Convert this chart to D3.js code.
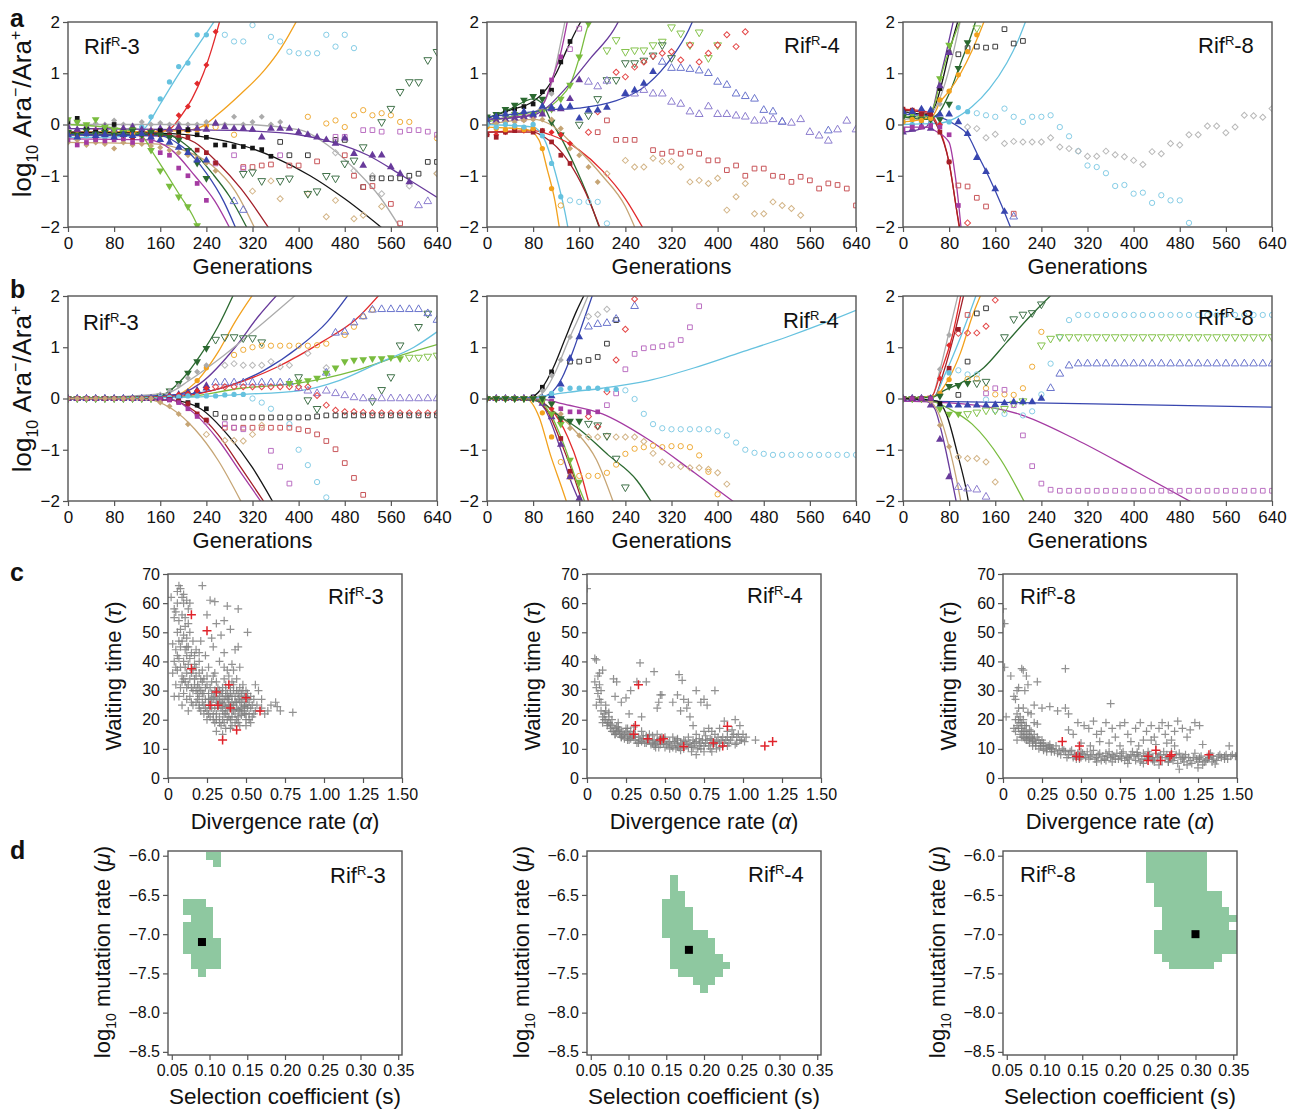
<!DOCTYPE html>
<html>
<head>
<meta charset="utf-8">
<script src="https://cdn.jsdelivr.net/npm/d3@7"></script>
<style>
body { margin: 0; background: #fff; }
svg text { font-family: "Liberation Sans", Arial, Helvetica, sans-serif; fill: #111; }
</style>
</head>
<body>
<svg id="fig" width="1293" height="1111"></svg>
<script>
const _ = null;

// sampling grid (generations), every 16
const gens = [0,16,32,48,64,80,96,112,128,144,160,176,192,208,224,240,256,272,288,304,320,
  336,352,368,384,400,416,432,448,464,480,496,512,528,544,560,576,592,608,624,640];

// ---------- row a : fitted curves [series, [[gen, log ratio]...]] ----------
const aR3Lines = [
  ["sky", [[0,-0.25],[80,-0.24],[120,-0.2],[135,-0.05],[160,0.4],[190,0.95],[220,1.45],[250,1.95],[256,2.05]]],
  ["red", [[0,-0.15],[150,-0.15],[175,-0.1],[195,0.15],[215,0.5],[235,1.0],[250,1.5],[264,2.05]]],
  ["org", [[0,-0.15],[200,-0.12],[230,-0.05],[260,0.2],[300,0.6],[340,1.05],[370,1.5],[398,2.05]]],
  ["gry", [[0,0.0],[300,0.0],[400,-0.1],[450,-0.4],[500,-0.9],[540,-1.4],[578,-2.05]]],
  ["pur", [[0,-0.08],[200,-0.1],[300,-0.12],[400,-0.2],[460,-0.35],[520,-0.6],[580,-1.0],[640,-1.42]]],
  ["blk", [[0,-0.15],[180,-0.18],[240,-0.25],[300,-0.4],[360,-0.65],[420,-1.0],[480,-1.45],[548,-2.05]]],
  ["drd", [[0,-0.2],[180,-0.22],[220,-0.35],[260,-0.75],[300,-1.25],[350,-2.05]]],
  ["tan", [[0,-0.35],[150,-0.38],[200,-0.5],[250,-0.8],[290,-1.3],[325,-2.05]]],
  ["mag", [[0,-0.28],[140,-0.3],[180,-0.5],[220,-1.0],[255,-1.5],[282,-2.05]]],
  ["lgn", [[0,0.0],[100,-0.1],[130,-0.25],[150,-0.6],[170,-0.95],[195,-1.4],[215,-1.75],[228,-2.05]]],
  ["dgn", [[0,-0.18],[170,-0.2],[210,-0.45],[250,-0.95],[280,-1.4],[312,-2.05]]],
  ["blu", [[0,-0.2],[160,-0.22],[200,-0.45],[240,-0.95],[270,-1.5],[292,-2.05]]]
];
// markers: [series, number of filled (fitted) points, values on the gens grid]
const aR3Pts = [
  ["sky",16,[-0.25,-0.28,-0.22,-0.3,-0.25,-0.2,-0.28,-0.22,-0.05,0.15,0.5,0.83,1.13,1.2,1.75,1.75,_,1.75,1.62,1.62,1.94,_,1.71,1.62,1.42,1.39,1.39,1.39,1.75,1.52,1.75,1.49]],
  ["red",17,[-0.15,-0.12,-0.18,-0.1,-0.15,-0.2,-0.12,-0.15,-0.18,-0.2,-0.12,-0.1,0.18,0.35,0.8,1.16,1.81]],
  ["org",16,[-0.15,-0.2,-0.1,-0.18,-0.12,-0.15,-0.1,-0.2,-0.15,-0.12,-0.18,-0.1,-0.15,-0.12,-0.1,-0.02,-0.05,_,-0.2,_,_,_,_,_,_,_,0.15,_,0.02,0.08,-0.05,0.18,0.28,0.18,0.22,0.18,0.05,0.05,_,_,-0.27]],
  ["gry",24,[0.0,0.05,-0.05,0.02,0.0,0.08,0.0,-0.02,0.05,0.0,0.03,0.0,0.02,0.0,0.0,0.05,0.02,0.0,0.15,0.0,0.05,0.15,0.0,0.05,_,_,_,_,_,-0.55,_,-0.9,_,-1.0,-1.35,_,_,-1.2,_,_,-0.95]],
  ["pur",38,[-0.05,-0.1,-0.05,-0.12,-0.05,-0.1,-0.08,-0.05,-0.1,-0.12,-0.08,-0.1,-0.05,-0.1,-0.08,-0.1,0.02,-0.05,-0.08,-0.08,-0.1,-0.25,-0.08,-0.08,-0.08,-0.15,-0.2,-0.25,-0.3,-0.37,-0.27,-0.57,-0.8,-0.6,-0.6,-0.83,-0.96,-1.12,-1.58,-1.5]],
  ["blk",23,[0.05,0.12,-0.1,-0.15,-0.12,0.0,-0.15,-0.1,-0.18,-0.15,-0.12,-0.2,-0.15,-0.1,-0.2,-0.25,-0.4,-0.4,-0.43,-0.43,-0.46,-0.49,-0.62,-0.34,-0.6,_,-0.6,_,_,-0.3,-0.3,_,-1.22,-1.05,-1.05,-1.05,-1.05,-1.0,-0.96,-0.73,-0.73]],
  ["drd",17,[-0.2,-0.22,-0.18,-0.25,-0.2,-0.22,-0.18,-0.25,-0.2,-0.22,-0.2,-0.22,-0.25,-0.25,-0.5,-0.55,-0.75,_,_,-0.83,-0.83,-0.8,-0.78,_,-0.8,-0.8,_,-0.72,_,_,-0.6,-1.0,-1.22,-1.2,_,-1.55,-1.93]],
  ["tan",17,[-0.35,-0.3,-0.4,-0.35,-0.38,-0.47,-0.35,-0.4,-0.38,-0.42,-0.45,-0.5,-0.55,-0.6,-0.65,-0.75,-0.9,_,_,_,-1.3,_,-1.1,-1.45,_,_,-1.35,_,-1.8,-1.48,_,-1.84,-1.77,_,-1.6,_,_,_,_,_,-0.96]],
  ["mag",16,[-0.3,-0.4,-0.35,-0.3,-0.32,-0.3,-0.28,-0.35,-0.3,-0.32,-0.55,-0.6,-0.85,-1.0,-1.15,-1.48,-0.76,_,-0.6,-0.86,_,_,_,-0.6,_,_,_,_,_,-0.24,-0.24,_,-0.11,-0.11,-0.14,_,-0.14,-0.11,-0.11,-0.14,-0.2]],
  ["lgn",15,[0.1,0.05,0.0,0.1,-0.05,-0.1,-0.15,-0.1,-0.2,-0.5,-0.9,-1.2,-1.41,-1.6,-1.97]],
  ["dgn",16,[-0.15,-0.2,-0.12,-0.18,-0.15,-0.2,-0.18,-0.12,-0.2,-0.15,-0.2,-0.25,-0.3,-0.5,-0.75,-1.05,_,_,_,-0.96,-0.93,-1.1,_,-1.1,-1.05,_,-1.35,-1.3,-1.0,-1.05,-0.76,-0.7,-0.44,_,0.05,0.31,0.64,0.83,0.83,1.26,1.42]],
  ["blu",16,[-0.2,-0.25,-0.18,-0.22,-0.2,-0.25,-0.2,-0.22,-0.18,-0.25,-0.3,-0.35,-0.45,-0.55,-0.7,-0.7,_,_,-1.5,-1.67]]
];

const aR4Lines = [
  ["blk", [[0,0.12],[40,0.28],[80,0.45],[100,0.65],[120,1.0],[140,1.5],[160,1.95],[165,2.05]]],
  ["gry", [[0,0.1],[60,0.15],[90,0.3],[112,0.8],[126,1.5],[136,2.05]]],
  ["mag", [[0,0.1],[80,0.2],[100,0.45],[115,0.95],[128,1.4],[140,2.05]]],
  ["lgn", [[0,0.05],[60,0.2],[100,0.3],[125,0.5],[145,0.8],[160,1.3],[176,1.95],[180,2.05]]],
  ["dgn", [[0,0.12],[40,0.3],[80,0.5],[95,0.42],[112,0.05],[128,-0.25],[150,-0.75],[175,-1.4],[196,-2.05]]],
  ["pur", [[0,0.1],[80,0.18],[100,0.3],[140,0.75],[180,1.3],[220,1.85],[230,2.05]]],
  ["blu", [[0,0.15],[60,0.22],[100,0.28],[160,0.32],[220,0.45],[280,0.8],[320,1.3],[350,1.85],[358,2.05]]],
  ["red", [[0,-0.15],[80,-0.12],[110,-0.2],[160,-0.5],[200,-0.9],[240,-1.45],[272,-2.05]]],
  ["drd", [[0,-0.15],[80,-0.15],[100,-0.25],[140,-0.7],[170,-1.3],[197,-2.05]]],
  ["tan", [[0,0.0],[80,0.1],[110,0.0],[150,-0.4],[200,-1.0],[240,-1.6],[258,-2.05]]],
  ["org", [[0,-0.05],[70,-0.1],[90,-0.3],[105,-0.9],[118,-1.5],[126,-2.05]]],
  ["sky", [[0,0.0],[80,-0.05],[100,-0.3],[120,-1.0],[135,-1.7],[141,-2.05]]]
];
const aR4Pts = [
  ["blk",10,[0.1,0.15,0.28,0.3,0.35,0.4,0.64,0.67,1.22,1.62]],
  ["gry",8,[0.1,0.12,0.15,0.1,0.18,0.15,0.2,0.6]],
  ["mag",9,[0.05,0.1,0.08,0.12,0.1,0.15,0.25,0.87,1.32,1.47,1.87]],
  ["lgn",12,[0.05,0.1,0.15,0.2,0.2,0.2,0.25,0.3,0.5,0.77,1.32,1.97,_,1.45,1.65,1.42,1.45,1.45,1.55,1.62,1.9,1.78,1.55,1.8,1.3,1.55]],
  ["dgn",9,[0.15,0.2,0.3,0.38,0.48,0.55,0.5,0.05,-0.2,_,0.0,0.18,0.5,0.87,0.87,1.2,1.2,1.25,1.35,1.55,1.3]],
  ["pur",11,[0.05,0.08,0.1,0.12,0.15,0.18,0.2,0.3,0.3,0.5,0.87,0.83,0.74,0.85,_,0.6,0.6,0.67,0.6,0.6,0.44,0.4,0.25,0.2,0.35,0.2,0.2,0.17,0.15,0.07,0.07,0.1,0.05,0.03,0.1,-0.15,-0.22,-0.32,-0.1,0.07,-0.1]],
  ["blu",19,[0.1,0.15,0.2,0.22,0.25,0.2,0.35,0.33,0.33,0.35,0.12,0.28,0.28,0.33,_,0.6,0.67,0.8,1.03,1.22,1.1,1.1,1.08,1.05,1.0,0.83,0.77,0.6,0.55,0.5,0.28,0.25,0.05,_,_,_,_,-0.12]],
  ["red",10,[-0.2,-0.2,-0.15,-0.1,-0.12,-0.1,-0.12,-0.15,-0.2,-0.37,_,-0.15,0.25,_,1.02,0.93,1.12,1.22,1.33,1.39,1.42,1.26,1.55,1.22,1.39,1.55,1.75,1.52,1.81]],
  ["drd",10,[-0.2,-0.25,-0.15,-0.12,-0.1,-0.15,-0.12,-0.34,-0.6,-0.76,_,_,-0.15,0.08,-0.3,-0.3,-0.3,_,-0.5,-0.57,-0.53,-0.57,-0.53,-0.57,-0.7,-0.7,-0.89,-0.8,-1.0,-0.86,-0.86,-1.0,-1.02,-1.12,-1.02,-1.09,-1.25,-1.15,-1.18,-1.25,-1.58]],
  ["tan",13,[0.0,0.02,0.05,0.05,0.08,0.1,0.1,0.1,-0.08,-0.47,-0.6,-0.83,-1.12,-0.96,_,-0.7,-0.83,-0.83,-0.66,-0.72,-0.72,-0.83,-1.12,-1.09,-1.15,-1.05,-1.67,-1.41,-1.15,-1.74,-1.74,-1.51,-1.58,-1.64,-1.77]],
  ["org",8,[-0.05,-0.08,-0.1,-0.05,-0.1,-0.08,-0.47,-1.25,-1.58]],
  ["sky",9,[0.0,-0.05,0.0,-0.02,-0.05,0.0,-0.22,-0.76,-1.41,-1.48,-1.51,-1.51,-1.51,-1.93]]
];

const aR8Lines = [
  ["blk", [[0,0.25],[40,0.2],[55,0.35],[65,0.7],[80,1.4],[96,2.05]]],
  ["gry", [[0,0.1],[40,0.15],[55,0.3],[70,0.7],[85,1.3],[100,2.05]]],
  ["pur", [[0,-0.15],[40,-0.05],[52,0.3],[62,0.8],[75,1.4],[88,2.05]]],
  ["lgn", [[0,0.15],[40,0.15],[55,0.4],[65,0.9],[85,1.6],[100,2.05]]],
  ["dgn", [[0,0.15],[40,0.1],[60,0.2],[80,0.6],[100,1.2],[120,1.8],[127,2.05]]],
  ["org", [[0,0.05],[50,0.15],[65,0.45],[80,0.65],[100,1.0],[120,1.45],[135,1.85],[142,2.05]]],
  ["sky", [[0,0.0],[60,0.02],[90,0.12],[120,0.35],[150,0.7],[180,1.2],[200,1.65],[214,2.05]]],
  ["red", [[0,0.3],[40,0.25],[60,0.0],[80,-0.75],[92,-1.6],[98,-2.05]]],
  ["drd", [[0,0.28],[40,0.22],[60,-0.05],[80,-0.75],[95,-1.8],[99,-2.05]]],
  ["mag", [[0,-0.05],[40,-0.05],[60,-0.15],[80,-0.35],[90,-0.95],[97,-1.6],[101,-2.05]]],
  ["blu", [[0,0.2],[60,0.15],[90,0.0],[112,-0.2],[130,-0.6],[150,-1.05],[170,-1.55],[188,-2.05]]]
];
const aR8Pts = [
  ["sky",8,[0.05,0.0,0.05,0.02,0.0,0.05,0.33,0.25,0.22,0.18,0.15,0.31,0.15,0.05,0.15,0.15,0.18,-0.05,-0.23,-0.52,-0.8,-0.83,-0.95,-1.2,-1.18,-1.35,-1.33,-1.53,-1.38,-1.48,-1.48,-1.92]],
  ["gry",5,[0.1,0.12,0.15,0.1,0.4,_,_,-0.05,-0.08,-0.26,-0.19,-0.37,-0.33,-0.34,-0.34,-0.34,-0.26,-0.44,-0.47,-0.52,-0.62,-0.62,-0.52,-0.59,-0.63,-0.7,-0.78,-0.53,-0.57,-0.37,-0.4,-0.2,-0.2,-0.03,-0.03,-0.16,-0.05,0.18,0.17,0.14,0.31]],
  ["blk",6,[0.25,0.22,0.2,0.18,0.7,1.4,1.37,1.49,1.52,1.5,1.52,1.86,1.58,1.63]],
  ["pur",6,[-0.15,-0.1,-0.05,-0.08,0.75,1.4]],
  ["lgn",6,[0.15,0.2,0.15,0.12,0.9,1.55,_,_,1.88]],
  ["dgn",8,[0.15,0.12,0.1,0.1,0.1,0.4,1.1,1.6]],
  ["org",9,[0.05,0.1,0.08,0.12,0.48,0.65,0.97,1.42,1.75]],
  ["red",6,[0.3,0.28,0.25,0.2,0.0,-0.73,_,-1.92]],
  ["drd",6,[0.3,0.28,0.2,0.2,-0.15,-0.73,-1.19,-1.21,-1.43,-1.6,_,_,-1.74]],
  ["mag",7,[-0.1,-0.05,-0.05,-0.02,-0.05,-0.2,-1.58]],
  ["blu",12,[0.25,0.25,0.3,0.28,0.2,0.2,0.05,-0.18,-0.65,-0.92,-1.26,-1.7,-1.8]]
];

// ---------- row b ----------
const bR3Lines = [
  ["dgn", [[0,0],[140,0],[170,0.1],[200,0.4],[230,0.85],[260,1.4],[288,2.05]]],
  ["org", [[0,0],[180,0.05],[220,0.3],[260,0.9],[290,1.5],[322,2.05]]],
  ["pur", [[0,0],[180,0.05],[230,0.3],[290,1.0],[330,1.6],[365,2.05]]],
  ["gry", [[0,0],[170,0.1],[210,0.35],[260,0.75],[320,1.3],[398,2.05]]],
  ["blu", [[0,0],[220,0.1],[280,0.25],[340,0.55],[400,1.0],[450,1.5],[488,2.05]]],
  ["red", [[0,0],[200,0.05],[280,0.25],[360,0.6],[440,1.1],[500,1.55],[542,2.05]]],
  ["lgn", [[0,0],[200,0.03],[300,0.2],[400,0.3],[500,0.55],[580,0.85],[640,1.05]]],
  ["sky", [[0,0],[200,0.02],[300,0.08],[400,0.15],[470,0.35],[540,0.7],[600,1.0],[640,1.3]]],
  ["blk", [[0,0],[180,-0.03],[230,-0.2],[280,-0.75],[320,-1.35],[357,-2.05]]],
  ["drd", [[0,0],[180,-0.03],[220,-0.25],[260,-0.7],[300,-1.35],[342,-2.05]]],
  ["mag", [[0,0],[180,-0.03],[220,-0.3],[260,-0.8],[300,-1.45],[337,-2.05]]],
  ["tan", [[0,0],[140,-0.02],[180,-0.2],[220,-0.6],[260,-1.2],[302,-2.05]]]
];
const bR3Pts = [
  ["dgn",16,[0,0,0,0,0,0,0,0,0,0,0.05,0.15,0.3,0.5,0.72,0.98,1.15,1.2,1.2,1.18,1.18,1.1,_,_,_,0.42,-0.03,-0.2,_,_,_,_,_,-0.05,0.17,0.42,1.04,_,1.4,1.66]],
  ["org",16,[0,0,0,0,0,0,0,0,0,0,0,0.02,0.05,0.12,0.35,0.6,_,_,0.85,0.95,1.0,1.03,1.03,1.03,1.03,1.03,1.03,1.04,1.07,_,1.24,1.4,1.6,1.73]],
  ["pur",16,[0,0,0,0,0,0,0,0,0,0,0,0.02,0.05,0.1,0.15,0.25,_,_,_,_,_,_,_,_,_,0.2,0.15,0.1,0.15,0.1,0.06,0.02,0,0,0,0,0,0,0,0,0]],
  ["gry",16,[0,0,0,0,0,0,0,0,0,0,0.08,0.15,0.25,0.4,0.52,0.65,_,0.65,0.68,0.65,0.65,0.65,0.72,0.62,0.65,_,0.88,_,0.6]],
  ["blu",16,[0,0,0,0,0,0,0,0,0,0,0.02,0.05,0.08,0.12,0.15,0.2,0.31,0.31,0.31,0.31,0.31,0.31,0.31,0.31,0.31,_,_,_,0.5,1.28,1.3,1.48,1.6,1.73,1.74,1.74,1.74,1.74,1.74,1.66,1.53]],
  ["red",16,[0,0,0,0,0,0,0,0,0,0,0.02,0.05,0.08,0.1,0.15,0.2,0.23,0.23,0.23,0.23,0.23,0.23,0.23,0.23,0.23,0.23,0.23,0.06,-0.13,-0.23,-0.26,-0.26,-0.27,-0.28,-0.28,-0.28,-0.28,-0.28,-0.28,-0.28,-0.28]],
  ["lgn",37,[0,0,0,0,0,0,0,0,0,0,_,_,_,_,_,_,_,_,_,_,_,_,_,_,0.3,0.32,0.35,0.4,0.5,0.6,0.72,0.75,0.76,0.78,0.78,0.8,0.78,0.8,0.8,0.82,0.84]],
  ["sky",20,[0,0,0,0,0,0,0,0,0,0,0.02,0.02,0.03,0.05,0.05,0.05,0.05,0.07,0.08,0.08,0.0,-0.08,-0.2,_,-0.5,-1.0,-1.3,-1.63,-1.93]],
  ["blk",16,[0,0,0,0,0,0,0,0,0,0,-0.01,-0.02,-0.05,-0.08,-0.13,-0.2,-0.3,-0.37,-0.37,-0.37,-0.37,-0.37,-0.37,-0.37,-0.37,-0.37,-0.37,-0.35,-0.33,-0.33,-0.33,-0.33,-0.33,-0.33,-0.33,-0.33,-0.33,-0.33,-0.33,-0.33,-0.33]],
  ["drd",16,[0,0,0,0,0,0,0,0,0,0,-0.01,-0.02,-0.05,-0.1,-0.3,-0.42,_,-0.57,-0.57,-0.57,-0.57,-0.57,-0.57,-0.57,-0.57,-0.6,-0.63,-0.7,-0.83,-0.99,-1.26,-1.55,-1.88]],
  ["mag",15,[0,0,0,0,0,0,0,0,0,0,-0.01,-0.03,-0.08,-0.2,-0.35,-0.45,_,-0.5,-0.57,-0.6,_,_,-1.02,-1.33,-1.66]],
  ["tan",14,[0,0,0,0,0,0,0,0,0,0,-0.08,-0.15,-0.3,-0.5,_,-0.7,_,-0.82,-0.82,-0.83,-0.7,-0.52]]
];

const bR4Lines = [
  ["blk", [[0,0],[75,0.02],[95,0.2],[115,0.6],[135,1.15],[155,1.7],[170,2.05]]],
  ["gry", [[0,0],[80,0.02],[100,0.15],[120,0.55],[140,1.1],[160,1.6],[177,2.05]]],
  ["blu", [[0,0],[90,0.02],[110,0.1],[130,0.4],[150,0.95],[170,1.6],[184,2.05]]],
  ["sky", [[0,0],[80,0.0],[100,0.05],[140,0.12],[200,0.2],[280,0.35],[360,0.6],[440,0.9],[520,1.2],[580,1.45],[640,1.72]]],
  ["mag", [[0,0],[100,-0.02],[130,-0.1],[200,-0.3],[280,-0.8],[360,-1.45],[432,-2.05]]],
  ["red", [[0,0],[80,-0.02],[110,-0.2],[140,-0.75],[160,-1.35],[177,-2.05]]],
  ["pur", [[0,0],[80,-0.02],[100,-0.2],[125,-0.9],[145,-1.6],[162,-2.05]]],
  ["drd", [[0,0],[80,-0.02],[105,-0.25],[130,-0.9],[150,-1.5],[166,-2.05]]],
  ["lgn", [[0,0],[85,-0.02],[110,-0.3],[135,-0.95],[155,-1.6],[171,-2.05]]],
  ["org", [[0,0],[70,-0.02],[90,-0.35],[110,-1.1],[130,-1.75],[139,-2.05]]],
  ["tan", [[0,0],[80,-0.02],[110,-0.2],[150,-0.6],[190,-1.2],[220,-2.05]]],
  ["dgn", [[0,0],[90,-0.05],[120,-0.3],[160,-0.6],[210,-1.1],[260,-1.6],[287,-2.05]]]
];
const bR4Pts = [
  ["blk",8,[0,0,0,0,0,0.03,0.22,0.52,_,0.72,0.72,0.75,0.81,1.07,1.53]],
  ["gry",10,[0,0,0,0,0,0,0.15,0.45,0.75,1.2,_,1.6,1.64,1.74]],
  ["blu",11,[0,0,0,0,0,0,0.01,0.05,0.28,0.78,1.2,1.4,1.45,1.47,1.55,_,1.8]],
  ["sky",15,[0,0,0,0,0,0,0.02,0.1,0.18,0.2,0.2,0.2,0.2,0.18,0.18,0.16,-0.01,-0.3,-0.5,-0.58,-0.6,-0.6,-0.6,-0.6,-0.6,-0.64,-0.72,-0.86,-1.0,-1.06,-1.08,-1.1,-1.1,-1.1,-1.1,-1.1,-1.1,-1.1,-1.1,-1.1,-1.1]],
  ["mag",13,[0,0,0,0,0,0,0,-0.05,-0.2,-0.26,-0.26,-0.27,-0.26,-0.13,0.1,0.57,0.87,0.98,1.0,1.02,1.05,1.14,1.39,1.8]],
  ["red",9,[0,0,0,0,0,0,0,-0.2,-0.45,_,_,-0.35,-0.55,0.13,0.75,1.35,1.94]],
  ["pur",11,[0,0,0,0,0,0,-0.1,-0.36,-0.9,-1.53,-1.95]],
  ["drd",10,[0,0,0,0,0,0,-0.05,-0.3,-0.78,-1.42]],
  ["lgn",11,[0,0,0,0,0,0,-0.05,-0.3,-0.5,-1.2,-1.63]],
  ["org",8,[0,0,0,0,0,0,-0.28,-0.75,-1.24,-1.53,-1.51,-1.51,-1.51,-1.45,-1.29,-1.08,-0.98,-0.95,-0.92,-0.95,-0.93,-0.93,-0.95,-1.11,-1.43,-1.87]],
  ["tan",11,[0,0,0,0,0,0,0,-0.1,-0.3,-0.58,-0.72,-0.75,-0.75,-0.73,-0.75,-0.75,-0.75,-0.84,-1.07,-1.24,-1.3,-1.33,-1.35,-1.35,-1.38,-1.45,-1.67]],
  ["dgn",11,[0,0,0,0,0,0,0,-0.1,-0.39,-0.44,-0.44,-0.49,-0.52,-0.73,-1.17,-1.73]]
];

const bR8Lines = [
  ["gry", [[0,0],[50,0.05],[65,0.6],[80,1.3],[96,2.05]]],
  ["red", [[0,0],[50,0.05],[65,0.5],[85,1.2],[101,2.05]]],
  ["drd", [[0,0],[55,0.05],[70,0.5],[90,1.3],[106,2.05]]],
  ["sky", [[0,0],[55,0.05],[70,0.4],[100,1.2],[128,2.05]]],
  ["org", [[0,0],[55,0.05],[80,0.4],[100,0.9],[120,1.6],[136,2.05]]],
  ["dgn", [[0,0],[50,0.02],[70,0.15],[100,0.3],[140,0.6],[180,1.1],[220,1.6],[260,2.05]]],
  ["blu", [[0,-0.05],[200,-0.08],[400,-0.12],[640,-0.17]]],
  ["mag", [[0,-0.05],[100,-0.1],[200,-0.3],[300,-0.8],[400,-1.4],[505,-2.05]]],
  ["lgn", [[0,0],[50,-0.05],[80,-0.2],[120,-0.5],[170,-1.2],[212,-2.05]]],
  ["pur", [[0,0],[40,-0.05],[55,-0.2],[70,-0.8],[85,-1.6],[93,-2.05]]],
  ["tan", [[0,0],[45,-0.05],[60,-0.25],[80,-0.95],[95,-1.7],[101,-2.05]]],
  ["blk", [[0,0],[60,-0.05],[75,-0.3],[95,-1.1],[110,-1.8],[114,-2.05]]]
];
const bR8Pts = [
  ["gry",6,[0,0,0,0,0.57,1.24]],
  ["red",6,[0,0,0,0,0.39,1.04,1.27,1.28,1.28,1.41,1.92]],
  ["drd",7,[0,0,0,0,0.1,0.59,1.35,1.63]],
  ["sky",6,[0,0,0,0,0.1,0.5,0.55,0.47,0.47,-0.02,-0.23,-0.3,_,-0.33,-0.25,0.08,0.68,1.2,1.53,
    1.63,1.63,1.63,1.63,1.63,1.63,1.63,1.63,1.63,1.63,1.63,1.63,1.63,1.63,1.63,1.63,1.63,1.63,1.63,1.63,1.63,1.63]],
  ["org",6,[0,0,0,0,0.1,0.37,_,0.38,0.39,0.2,0.08,0.08,0.07,0.2,0.62,1.3]],
  ["dgn",8,[0,0,0,0,0.05,0.24,0.26,0.3,0.3,0.33,_,1.2,1.55,1.64,1.67,1.84]],
  ["blu",16,[0,0,0,0,-0.13,-0.13,-0.13,-0.13,-0.13,-0.13,-0.12,-0.09,-0.07,-0.07,-0.07,0.0,0.2,0.48,0.64,
    0.68,0.68,0.68,0.68,0.68,0.68,0.68,0.68,0.68,0.68,0.68,0.68,0.68,0.68,0.68,0.68,0.68,0.68,0.68,0.68,0.68,0.68]],
  ["lgn",7,[0,0,0,0,-0.2,-0.3,-0.3,-0.3,-0.27,-0.23,-0.23,-0.2,-0.1,-0.05,_,1.04,1.17,
    1.2,1.2,1.2,1.2,1.2,1.2,1.2,1.2,1.2,1.2,1.2,1.2,1.2,1.2,1.2,1.2,1.2,1.2,1.2,1.2,1.2,1.2,1.2,1.2]],
  ["pur",6,[0,0,0,-0.13,-0.8,-1.53,-1.73,-1.76,-1.78,-1.92]],
  ["tan",6,[0,0,0,-0.05,-0.52,-0.94,-1.14,-1.17,-1.17,-1.24,-1.63]],
  ["blk",5,[0,0,0,0,-0.1,_,0.07,0.72,1.66,1.76]],
  ["mag",4,[0,0,0,0,_,_,_,_,_,0.1,0.2,0.17,-0.13,-0.72,-1.32,-1.66,-1.78,
    -1.8,-1.8,-1.8,-1.8,-1.8,-1.8,-1.8,-1.8,-1.8,-1.8,-1.8,-1.8,-1.8,-1.8,-1.8,-1.8,-1.8,-1.8,-1.8,-1.8,-1.8,-1.8,-1.8,-1.8]]
];

// ---------- row c : [divergence rate alpha, waiting time tau] ----------
const cR3Gray = [
  [0.02,62],[0.04,58],[0.05,57],[0.06,64],[0.07,66],[0.08,65],[0.09,62],[0.1,60],[0.12,61],[0.14,60],[0.04,55],[0.07,54],[0.09,56],[0.11,55],[0.13,53],
  [0.06,50],[0.08,51],[0.1,49],[0.12,48],[0.14,50],[0.16,47],[0.03,46],[0.05,44],[0.08,45],[0.11,44],[0.13,45],[0.15,43],[0.18,44],[0.04,40],[0.07,41],
  [0.1,40],[0.12,42],[0.14,41],[0.17,39],[0.2,40],[0.03,36],[0.06,37],[0.09,35],[0.12,36],[0.15,36],[0.18,35],[0.21,34],[0.05,32],[0.08,31],[0.11,33],
  [0.13,32],[0.16,30],[0.04,28],[0.07,28],[0.1,29],[0.12,27],[0.15,26],[0.09,25],[0.13,23],
  [0.22,66],[0.27,61],[0.3,60.5],[0.38,59],[0.45,58],[0.25,56],[0.31,53],[0.36,54],[0.4,51],[0.34,49],[0.28,48],[0.51,50],[0.21,47],[0.29,45],[0.43,44],
  [0.36,43],[0.24,42],[0.33,40],[0.41,39],[0.26,38],[0.38,37],[0.46,38],[0.3,36],[0.22,37],[0.2,43],[0.45,45],
  [0.18,30],[0.2,28],[0.22,26],[0.2,24],[0.23,22],[0.25,20],[0.24,31],[0.26,29],[0.27,27],[0.28,24],[0.29,22],[0.3,19],[0.31,33],[0.32,31],[0.33,28],
  [0.34,26],[0.35,23],[0.33,21],[0.34,18],[0.36,34],[0.37,30],[0.38,27],[0.39,25],[0.37,22],[0.4,20],[0.41,33],[0.42,30],[0.43,28],[0.44,26],[0.42,23],
  [0.45,21],[0.46,31],[0.47,29],[0.48,27],[0.47,24],[0.49,22],[0.5,20],[0.51,29],[0.52,26],[0.53,24],[0.52,22],[0.54,21],[0.56,23],[0.21,30],[0.26,25],
  [0.31,26],[0.36,27],[0.41,26],[0.46,26],[0.5,25],[0.3,30],[0.35,31],[0.4,29],[0.45,29],[0.24,27],[0.28,33],[0.32,24],[0.38,20],[0.43,19],[0.27,21],
  [0.22,33],[0.19,32],[0.17,34],[0.39,35],[0.44,34],[0.48,32],[0.55,27],[0.29,35],[0.25,35],[0.36,38],[0.4,17],[0.46,18],[0.31,16],[0.35,15],[0.37,17],
  [0.5,18],[0.53,19],[0.2,25],[0.23,29],[0.42,37],[0.29,27.5],[0.33,25.5],[0.37,24.5],[0.41,23.5],[0.45,23.5],[0.49,24.5],[0.39,28],[0.35,29],[0.47,21.5],
  [0.19,27],[0.21,23],[0.23,25],[0.25,23],[0.26,27],[0.27,31],[0.28,26],[0.29,20],[0.3,24],[0.3,28],[0.31,22],[0.32,27],[0.33,30],[0.34,24],[0.34,29],
  [0.35,20],[0.35,26],[0.36,22],[0.36,25],[0.37,28],[0.37,32],[0.38,23],[0.38,29],[0.39,21],[0.39,27],[0.4,25],[0.4,31],[0.41,21],[0.41,28],[0.42,25],
  [0.42,32],[0.43,22],[0.43,26],[0.44,24],[0.44,30],[0.45,27],[0.45,19],[0.46,23],[0.46,28],[0.47,26],[0.48,23],[0.48,30],[0.49,25],[0.49,28],[0.5,22],
  [0.5,30],[0.51,24],[0.51,27],[0.52,20],[0.53,28],[0.54,25],[0.55,22],[0.24,24],[0.26,22],[0.28,29],[0.31,20],[0.33,19],[0.36,19],[0.41,18],[0.44,20],
  [0.06,42],[0.08,38],[0.1,34],[0.11,38],[0.12,31],[0.13,39],[0.14,34],[0.15,31],[0.16,37],[0.17,32],[0.18,38],[0.19,29],[0.09,47],[0.11,52],[0.07,47],
  [0.05,38],[0.09,33],[0.14,28],[0.16,25],[0.18,26],[0.2,31],[0.22,29],[0.13,58],[0.06,60],[0.1,63],[0.12,45],[0.17,42],[0.2,36],[0.23,34],[0.25,32],
  [0.57,25],[0.6,24],[0.62,22],[0.64,23],[0.66,25],[0.69,26],[0.7,24.5],[0.72,23],[0.8,22.5],[0.58,30],[0.6,27],[0.56,32]
];
const cR3Red = [[0.15,56],[0.25,50.5],[0.15,37.5],[0.39,32],[0.31,29.5],[0.27,25],[0.32,25],[0.4,24],[0.5,27.5],[0.59,23],[0.44,16.5],[0.35,13]];

const cR4Gray = [
  [0.0,65],[0.05,41],[0.06,40.5],[0.05,33],[0.06,31],[0.07,35],[0.08,36],[0.06,25],[0.08,27],[0.07,29],[0.09,30],[0.1,37],[0.09,23],[0.1,21],[0.11,22],
  [0.12,20],[0.1,19],[0.13,18],[0.14,19],[0.15,17],[0.16,18],[0.17,16],[0.18,17],[0.19,15.5],[0.2,16],[0.21,15],[0.22,16],[0.23,14.5],[0.24,15],[0.26,14],
  [0.27,15],[0.28,13.5],[0.3,14],[0.31,13],[0.33,14],[0.35,12.5],[0.36,13.5],[0.38,12],[0.4,13],[0.42,12],[0.43,11],[0.45,12.5],[0.47,11.5],[0.49,12],
  [0.5,10.5],[0.52,12],[0.54,11],[0.56,12.5],[0.58,11],[0.6,12],[0.62,10],[0.64,11.5],[0.66,12],[0.68,10.5],[0.7,12.5],[0.72,11],[0.74,13],[0.75,9],
  [0.76,12],[0.78,11],[0.8,13],[0.82,12],[0.84,14],[0.85,10.5],[0.86,13],[0.88,12],[0.9,14],[0.92,13],[0.94,15],[0.96,14],[0.98,13],[1.0,15],[1.02,14],
  [0.7,8],[0.8,9],[0.6,9.5],
  [0.12,23],[0.14,21],[0.16,20],[0.2,19],[0.25,17],[0.3,17.5],[0.35,16],[0.4,15],[0.45,15],[0.55,14],[0.65,14],[0.7,15],[0.75,16],[0.78,17],[0.8,16],
  [0.85,17],[0.88,19.5],[0.95,20],[0.98,18],[1.08,13],[0.72,13.5],[0.62,13],[0.5,14],[0.42,14.5],[0.58,13.5],[0.9,11],[0.96,12],[0.67,9],[0.73,10],
  [0.83,10],[0.53,10],[0.47,13.5],[0.38,14.5],[0.28,16],[0.18,15],[0.22,14],[0.26,13],[0.33,12],[0.44,10.5],[0.57,10],[0.79,13.5],[0.93,16.5],
  [0.11,20],[0.13,19],[0.15,18.5],[0.16,16],[0.18,15],[0.19,17.5],[0.21,16.5],[0.22,14],[0.24,13.5],[0.25,15.5],[0.27,13],[0.29,14.5],[0.31,15],[0.32,12],
  [0.34,13],[0.36,14.5],[0.37,12],[0.39,13.5],[0.41,11.5],[0.43,13],[0.44,12],[0.46,10.5],[0.48,12.5],[0.51,11.5],[0.53,12.5],[0.55,10.5],[0.57,12],
  [0.59,10.5],[0.61,11.5],[0.63,12.5],[0.65,10.5],[0.67,11],[0.69,12],[0.71,10],[0.73,12],[0.75,11],[0.77,13],[0.79,10],[0.81,11.5],[0.83,12.5],[0.85,12],
  [0.87,14],[0.89,13],[0.91,12],[0.93,14],[0.95,11.5],[0.97,15],[0.99,13],[1.01,12.5],[0.14,22.5],[0.12,25],[0.08,32],[0.09,26],[0.76,14.5],[0.82,15],
  [0.9,16],[0.68,13],[0.58,13],[0.48,14],[0.26,17],[0.2,17.5],
  [0.18,28],[0.17,34],[0.19,33],[0.22,26],[0.25,27.5],[0.28,30],[0.32,33],[0.34,39.5],[0.38,33],[0.43,36.5],[0.46,26],[0.47,28.5],[0.48,28.5],[0.58,28.5],
  [0.59,35.5],[0.61,33.5],[0.62,27],[0.65,26],[0.66,21],[0.64,24],[0.7,30],[0.73,26],[0.75,27],[0.77,25],[0.82,30],[0.6,23],[0.55,26],[0.45,24],[0.27,22],
  [0.35,21],[0.68,18]
];
const cR4Red = [[0.33,32],[0.31,18],[0.3,15],[0.39,13.5],[0.47,13],[0.49,13.5],[0.62,10.8],[0.81,12],[0.87,11],[0.9,17.8],[1.14,11],[1.19,12.5]];

const cR8Gray = [
  [0.0,58],[0.01,53],[0.01,38],[0.02,21],[0.05,35],[0.07,28],[0.08,27],[0.09,30],[0.1,31],[0.12,37.5],[0.13,37],[0.14,30],[0.15,35],[0.16,32],[0.22,33],
  [0.4,37.5],[0.2,25],[0.25,24],[0.3,24.5],[0.35,23],[0.4,24],[0.42,22],[0.69,25.5],
  [0.08,16],[0.09,18],[0.1,20],[0.11,21],[0.12,19],[0.13,20],[0.1,24],[0.12,17],[0.14,16],[0.15,18],[0.16,15],[0.17,14],[0.18,16],[0.2,13],[0.22,14],
  [0.24,12],[0.25,13],[0.27,11],[0.3,11.5],[0.32,10],[0.34,11],[0.36,9.5],[0.38,10],[0.4,9],[0.09,13],[0.11,15],[0.13,14],[0.15,13],[0.17,12],[0.19,11],
  [0.21,12],[0.23,10],[0.26,9.5],[0.28,10],[0.31,9],[0.18,22],[0.2,19],[0.22,18.5],[0.16,22.5],[0.13,24],[0.12,16],[0.14,13.5],[0.19,13.5],[0.24,11],
  [0.42,8],[0.45,7],[0.48,8.5],[0.5,7],[0.52,8],[0.55,6.5],[0.57,8],[0.6,7],[0.62,8.5],[0.65,6.5],[0.67,7.5],[0.7,8],[0.72,6.5],[0.75,7.5],[0.77,9],
  [0.8,7],[0.82,8],[0.85,6],[0.87,7.5],[0.9,8.5],[0.92,6.5],[0.95,7],[0.97,5.5],[1.0,7.5],[1.02,6],[1.05,8],[1.07,6.5],[1.1,7],[1.12,5],[1.15,6.5],
  [1.17,8],[1.2,6],[1.22,7],[1.25,5.5],[1.27,7.5],[1.3,6],[1.32,7],[1.35,6.5],[1.38,7.5],[1.4,7],[1.43,8],[1.46,7.5],[1.49,7.5],[0.44,9.5],[0.5,9],
  [0.58,9.5],[0.63,6],[0.68,9],[0.73,8.5],[0.78,6],[0.83,9],[0.88,5.5],[0.93,9],[0.98,8.5],[1.03,9],[1.08,9],[1.13,8.5],[1.18,4.5],[1.23,8.5],[1.28,4.5],
  [1.33,8.5],[1.36,4.8],[1.13,3],[1.25,3.5],[0.6,5.5],[0.7,5.5],[0.8,5],[0.9,5],[1.0,4.5],[0.47,6.5],[0.54,9],[0.66,8.5],[0.76,6.8],[0.86,8.8],[0.96,6],
  [1.06,5.5],[1.16,7.2],[1.26,6.5],[1.34,5.5],[1.42,6.5],
  [0.3,10.5],[0.33,9],[0.35,8.5],[0.37,8],[0.39,9.5],[0.41,7],[0.43,9],[0.46,8],[0.49,6.5],[0.51,8.5],[0.53,7],[0.56,7.5],[0.59,6.5],[0.61,8],[0.64,7.5],
  [0.66,6],[0.69,7],[0.71,7.5],[0.74,6.5],[0.76,8.5],[0.79,7.5],[0.81,6.5],[0.84,7.5],[0.86,8],[0.89,6.5],[0.91,7.5],[0.94,8],[0.96,6.5],[0.99,7],[1.01,8],
  [1.04,7],[1.06,5.5],[1.09,6],[1.11,8],[1.14,7],[1.16,5.5],[1.19,7],[1.21,5],[1.24,6.5],[1.26,7],[1.29,5.5],[1.31,6.5],[1.34,7.5],[1.37,6],[1.39,8],
  [1.42,7.5],[1.44,6.5],[1.47,8],[1.5,7.5],[0.1,17],[0.11,19],[0.12,14],[0.13,16],[0.14,18],[0.15,15],[0.16,13],[0.17,16.5],[0.18,14],[0.19,12.5],[0.2,15],
  [0.21,11],[0.23,13],[0.25,11],[0.26,12],[0.28,9],[0.29,11],[0.31,10],[0.07,17],[0.08,20],[0.09,22],
  [0.45,15],[0.48,19],[0.52,18],[0.55,17],[0.58,19.5],[0.6,15],[0.63,16],[0.66,19],[0.68,12],[0.7,17],[0.72,14],[0.75,18],[0.78,19],[0.8,15],[0.82,12.5],
  [0.85,17],[0.88,19],[0.9,13],[0.92,16],[0.95,18],[0.97,14],[1.0,17],[1.02,19],[1.04,15],[1.06,18],[1.08,13],[1.1,16],[1.12,19.5],[1.15,17],[1.18,14],
  [1.2,16.5],[1.23,19],[1.26,18],[1.28,11.5],[0.5,12],[0.62,12.5],[0.75,11],[0.87,11],[0.98,11.5],[1.1,11],[1.45,11],[0.56,11],[0.42,16.5],[0.95,13],[1.05,12]
];
const cR8Red = [[0.38,12.5],[0.47,7.5],[0.49,7.3],[0.49,11],[0.93,6],[0.93,7.5],[0.98,9.5],[1.01,6],[1.07,7.5],[1.08,8],[1.32,8]];

// ---------- row d : credible region rows [log10 mu, s from, s to] and best fit ----------
const dR3Runs = [[-6.0,0.10,0.11],[-6.1,0.11,0.11],[-6.6,0.07,0.09],[-6.7,0.07,0.10],[-6.8,0.08,0.10],[-6.9,0.07,0.10],
  [-7.0,0.07,0.10],[-7.1,0.07,0.11],[-7.2,0.07,0.11],[-7.3,0.08,0.11],[-7.4,0.08,0.11],[-7.5,0.09,0.09]];
const dR3Best = [0.09,-7.1];
const dR4Runs = [[-6.3,0.16,0.16],[-6.4,0.16,0.16],[-6.5,0.16,0.17],[-6.6,0.15,0.17],[-6.7,0.15,0.18],[-6.8,0.15,0.18],
  [-6.9,0.15,0.18],[-7.0,0.15,0.20],[-7.1,0.16,0.21],[-7.2,0.16,0.21],[-7.3,0.16,0.22],[-7.4,0.16,0.23],[-7.5,0.17,0.22],
  [-7.6,0.19,0.21],[-7.7,0.20,0.20]];
const dR4Best = [0.18,-7.2];
const dR8Runs = [[-6.0,0.24,0.31],[-6.1,0.24,0.31],[-6.2,0.24,0.31],[-6.3,0.24,0.31],[-6.4,0.25,0.31],[-6.5,0.25,0.33],
  [-6.6,0.25,0.33],[-6.7,0.26,0.34],[-6.8,0.26,0.35],[-6.9,0.26,0.34],[-7.0,0.25,0.35],[-7.1,0.25,0.35],[-7.2,0.25,0.35],
  [-7.3,0.26,0.33],[-7.4,0.27,0.32]];
const dR8Best = [0.30,-7.0];

// ---------- styles ----------
const colFill = {blk:"#151515",gry:"#ababab",red:"#e22a2c",drd:"#a21f28",sky:"#66c2df",org:"#f2a11d",lgn:"#79bc3e",
  dgn:"#2b6930",pur:"#683a9b",blu:"#3846af",mag:"#a43aa2",tan:"#c6a575"};
const colHollow = {blk:"#3a3a3a",gry:"#b9b9b9",red:"#e44848",drd:"#c85559",sky:"#86cde6",org:"#efac3a",lgn:"#85c34d",
  dgn:"#41724a",pur:"#8d7ecf",blu:"#6b75cd",mag:"#bb70c2",tan:"#d3b588"};
const shapeOf = {blk:"sq",gry:"di",red:"di",drd:"sq",sky:"ci",org:"ci",lgn:"td",dgn:"td",pur:"tu",blu:"tu",mag:"sq",tan:"di"};
const symPath = {
  sq: d3.symbol(d3.symbolSquare, 22)(),
  di: d3.symbol(d3.symbolSquare, 18)(),
  ci: d3.symbol(d3.symbolCircle, 22)(),
  tu: d3.symbol(d3.symbolTriangle, 26)(),
  td: d3.symbol(d3.symbolTriangle, 26)()
};
const symRot = {sq:0, di:45, ci:0, tu:0, td:180};
const FRAME = "#555";
const GREEN = "#8ec8a0";

const svg = d3.select("#fig");
let clipCount = 0;

function clipGroup(x0, y0, w, h) {
  const id = "clip" + (clipCount++);
  svg.append("clipPath").attr("id", id).append("rect")
    .attr("x", x0).attr("y", y0).attr("width", w).attr("height", h);
  return svg.append("g").attr("clip-path", `url(#${id})`);
}

function axes(x, y, xt, yt, xfmt, yfmt, fs, xpad) {
  const gx = svg.append("g").attr("transform", `translate(0,${y.range()[0]})`)
    .call(d3.axisBottom(x).tickValues(xt).tickFormat(xfmt).tickSize(5).tickPadding(xpad));
  const gy = svg.append("g").attr("transform", `translate(${x.range()[0]},0)`)
    .call(d3.axisLeft(y).tickValues(yt).tickFormat(yfmt).tickSize(5).tickPadding(3));
  [gx, gy].forEach(g => {
    g.select(".domain").remove();
    g.selectAll("line").attr("stroke", FRAME).attr("stroke-width", 1.2);
    g.selectAll("text").attr("font-size", fs);
  });
  const [xa, xb] = x.range(), [ya, yb] = y.range();
  svg.append("rect").attr("x", xa).attr("y", yb).attr("width", xb - xa).attr("height", ya - yb)
    .attr("fill", "none").attr("stroke", FRAME).attr("stroke-width", 1.4);
}

function rifLabel(x, y, n) {
  const t = svg.append("text").attr("x", x).attr("y", y).attr("font-size", 22);
  t.append("tspan").text("Rif");
  t.append("tspan").attr("dy", -8).attr("font-size", 13).text("R");
  t.append("tspan").attr("dy", 8).text("-" + n);
}

// ---------- time course panels (rows a, b) ----------
const PW = 369, PH = 205;
const colX = [68, 487, 903];

function timePanel(x0, y0, lines, pts) {
  const x = d3.scaleLinear().domain([0, 640]).range([x0, x0 + PW]);
  const y = d3.scaleLinear().domain([-2, 2]).range([y0 + PH, y0]);
  const g = clipGroup(x0, y0, PW, PH);
  const line = d3.line().x(d => x(d[0])).y(d => y(d[1])).curve(d3.curveMonotoneX);
  g.selectAll("path.fit").data(lines).join("path").attr("class", "fit")
    .attr("d", d => line(d[1])).attr("fill", "none")
    .attr("stroke", d => colFill[d[0]]).attr("stroke-width", 1.3);
  const marks = [];
  pts.forEach(([k, cut, vals]) => vals.forEach((v, i) => {
    if (v !== null) marks.push({k: k, g: gens[i], v: v, filled: i < cut});
  }));
  marks.sort((a, b) => a.filled - b.filled);
  g.selectAll("path.mk").data(marks).join("path").attr("class", "mk")
    .attr("d", d => symPath[shapeOf[d.k]])
    .attr("transform", d => `translate(${x(d.g)},${y(d.v)}) rotate(${symRot[shapeOf[d.k]]})`)
    .attr("fill", d => d.filled ? colFill[d.k] : "none")
    .attr("stroke", d => d.filled ? "none" : colHollow[d.k])
    .attr("stroke-width", 1);
  axes(x, y, [0,80,160,240,320,400,480,560,640], [-2,-1,0,1,2], d3.format("d"), d3.format("d"), 17, 5);
  svg.append("text").attr("x", x0 + PW / 2).attr("y", y0 + PH + 47).attr("text-anchor", "middle")
    .attr("font-size", 22).text("Generations");
}

function araLabel(cx, cy) {
  const t = svg.append("text").attr("transform", `translate(${cx},${cy}) rotate(-90)`)
    .attr("text-anchor", "middle").attr("font-size", 26);
  t.append("tspan").text("log");
  t.append("tspan").attr("dy", 7).attr("font-size", 16).text("10");
  t.append("tspan").attr("dy", -7).text("\u00a0Ara");
  t.append("tspan").attr("dy", -10).attr("font-size", 16).text("\u2212");
  t.append("tspan").attr("dy", 10).text("/Ara");
  t.append("tspan").attr("dy", -10).attr("font-size", 16).text("+");
}

timePanel(colX[0], 22, aR3Lines, aR3Pts);
timePanel(colX[1], 22, aR4Lines, aR4Pts);
timePanel(colX[2], 22, aR8Lines, aR8Pts);
timePanel(colX[0], 296, bR3Lines, bR3Pts);
timePanel(colX[1], 296, bR4Lines, bR4Pts);
timePanel(colX[2], 296, bR8Lines, bR8Pts);
araLabel(31, 114);
araLabel(31, 389);
rifLabel(84, 54, 3); rifLabel(784, 53, 4); rifLabel(1198, 53, 8);
rifLabel(83, 330, 3); rifLabel(783, 328, 4); rifLabel(1198, 325, 8);

// ---------- row c : waiting time vs divergence rate ----------
const CW = 234, CH = 204;
const cX = [168, 587, 1003];
const cross = s => `M${-s},0H${s}M0,${-s}V${s}`;

function cloudPanel(x0, gray, red) {
  const y0 = 574;
  const x = d3.scaleLinear().domain([0, 1.5]).range([x0, x0 + CW]);
  const y = d3.scaleLinear().domain([0, 70]).range([y0 + CH, y0]);
  const g = clipGroup(x0, y0, CW, CH);
  g.selectAll("path.gr").data(gray).join("path").attr("class", "gr")
    .attr("d", cross(4)).attr("transform", d => `translate(${x(d[0])},${y(d[1])})`)
    .attr("stroke", "#7e7e7e").attr("stroke-width", 1.2).attr("stroke-opacity", 0.85);
  g.selectAll("path.rd").data(red).join("path").attr("class", "rd")
    .attr("d", cross(4.5)).attr("transform", d => `translate(${x(d[0])},${y(d[1])})`)
    .attr("stroke", "#e0232b").attr("stroke-width", 1.5);
  axes(x, y, [0,0.25,0.5,0.75,1,1.25,1.5], [0,10,20,30,40,50,60,70],
    d => d === 0 ? "0" : d3.format(".2f")(d), d3.format("d"), 16, 6);
  const t = svg.append("text").attr("x", x0 + CW / 2).attr("y", 829).attr("text-anchor", "middle").attr("font-size", 22);
  t.append("tspan").text("Divergence rate (");
  t.append("tspan").attr("font-style", "italic").text("\u03b1");
  t.append("tspan").text(")");
  const l = svg.append("text").attr("transform", `translate(${x0 - 47},676) rotate(-90)`)
    .attr("text-anchor", "middle").attr("font-size", 22);
  l.append("tspan").text("Waiting time (");
  l.append("tspan").attr("font-style", "italic").text("\u03c4");
  l.append("tspan").text(")");
}
cloudPanel(cX[0], cR3Gray, cR3Red);
cloudPanel(cX[1], cR4Gray, cR4Red);
cloudPanel(cX[2], cR8Gray, cR8Red);
rifLabel(328, 604, 3); rifLabel(747, 603, 4); rifLabel(1020, 604, 8);

// ---------- row d : mutation rate vs selection coefficient ----------
function muPanel(x0, runs, best) {
  const y0 = 851;
  const x = d3.scaleLinear().domain([0.045, 0.355]).range([x0, x0 + CW]);
  const y = d3.scaleLinear().domain([-8.54, -5.94]).range([y0 + CH, y0]);
  const g = clipGroup(x0, y0, CW, CH);
  g.selectAll("rect.cell").data(runs).join("rect").attr("class", "cell")
    .attr("x", d => x(d[1] - 0.005)).attr("width", d => x(d[2] + 0.005) - x(d[1] - 0.005))
    .attr("y", d => y(d[0] + 0.05)).attr("height", d => y(d[0] - 0.05) - y(d[0] + 0.05))
    .attr("fill", GREEN).attr("shape-rendering", "crispEdges");
  g.append("rect").attr("x", x(best[0]) - 4).attr("y", y(best[1]) - 4).attr("width", 8).attr("height", 8).attr("fill", "#000");
  axes(x, y, [0.05,0.1,0.15,0.2,0.25,0.3,0.35], [-6,-6.5,-7,-7.5,-8,-8.5],
    d3.format(".2f"), d3.format(".1f"), 16, 5);
  svg.append("text").attr("x", x0 + CW / 2).attr("y", 1104).attr("text-anchor", "middle")
    .attr("font-size", 22.5).text("Selection coefficient (s)");
  const l = svg.append("text").attr("transform", `translate(${x0 - 58},952) rotate(-90)`)
    .attr("text-anchor", "middle").attr("font-size", 22);
  l.append("tspan").text("log");
  l.append("tspan").attr("dy", 6).attr("font-size", 14).text("10");
  l.append("tspan").attr("dy", -6).text("\u00a0mutation rate (");
  l.append("tspan").attr("font-style", "italic").text("\u03bc");
  l.append("tspan").text(")");
}
muPanel(cX[0], dR3Runs, dR3Best);
muPanel(cX[1], dR4Runs, dR4Best);
muPanel(cX[2], dR8Runs, dR8Best);
rifLabel(330, 883, 3); rifLabel(748, 882, 4); rifLabel(1020, 882, 8);

// panel letters
[["a", 27], ["b", 298], ["c", 581], ["d", 859]].forEach(([s, yy]) =>
  svg.append("text").attr("x", 10).attr("y", yy).attr("font-size", 25).attr("font-weight", "bold").text(s));
</script>
</body>
</html>
